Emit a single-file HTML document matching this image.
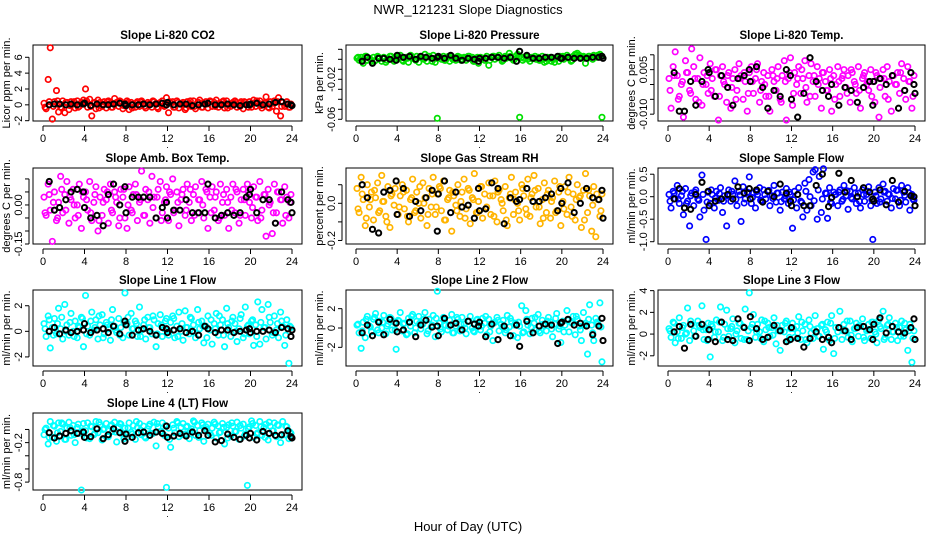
<!DOCTYPE html>
<html><head><meta charset="utf-8"><style>
html,body{margin:0;padding:0;background:#fff;}
svg{display:block;font-family:"Liberation Sans",Arial,sans-serif;}
</style></head><body>
<svg id="chart" width="936" height="540" viewBox="0 0 936 540" xmlns="http://www.w3.org/2000/svg">
<rect width="936" height="540" fill="#fff"/>
<text x="468" y="14" text-anchor="middle" font-size="13">NWR_121231  Slope Diagnostics</text>
<text x="468" y="531" text-anchor="middle" font-size="13">Hour of Day (UTC)</text>
<g id="panels"></g>
</svg>
<script>
const hours = [0.1,0.3,0.5,0.7,0.9,1.1,1.3,1.5,1.7,1.9,2.1,2.3,2.5,2.7,2.9,3.1,3.3,3.5,3.7,3.9,4.1,4.3,4.5,4.7,4.9,5.1,5.3,5.5,5.7,5.9,6.1,6.3,6.5,6.7,6.9,7.1,7.3,7.5,7.7,7.9,8.1,8.3,8.5,8.7,8.9,9.1,9.3,9.5,9.7,9.9,10.1,10.3,10.5,10.7,10.9,11.1,11.3,11.5,11.7,11.9,12.1,12.3,12.5,12.7,12.9,13.1,13.3,13.5,13.7,13.9,14.1,14.3,14.5,14.7,14.9,15.1,15.3,15.5,15.7,15.9,16.1,16.3,16.5,16.7,16.9,17.1,17.3,17.5,17.7,17.9,18.1,18.3,18.5,18.7,18.9,19.1,19.3,19.5,19.7,19.9,20.1,20.3,20.5,20.7,20.9,21.1,21.3,21.5,21.7,21.9,22.1,22.3,22.5,22.7,22.9,23.1,23.3,23.5,23.7,23.9];
const hours2 = [0.2,0.6,1.0,1.4,1.8,2.2,2.6,3.0,3.4,3.8,4.2,4.6,5.0,5.4,5.8,6.2,6.6,7.0,7.4,7.8,8.2,8.6,9.0,9.4,9.8,10.2,10.6,11.0,11.4,11.8,12.2,12.6,13.0,13.4,13.8,14.2,14.6,15.0,15.4,15.8,16.2,16.6,17.0,17.4,17.8,18.2,18.6,19.0,19.4,19.8,20.2,20.6,21.0,21.4,21.8,22.2,22.6,23.0,23.4,23.8];
const blackHours = [0.6,1.1,1.6,2.2,2.7,3.3,3.9,4.0,4.6,5.2,5.8,6.3,6.8,7.4,7.9,8.0,8.6,9.2,9.7,10.3,10.9,11.5,11.9,12.0,12.6,13.2,13.8,14.4,15.0,15.6,15.9,16.6,17.2,17.8,18.4,19.0,19.6,19.9,20.0,20.6,21.2,21.8,22.4,23.0,23.6,23.9,24.0];
const xTicks = [0,4,8,12,16,20,24];

const co2Vals = [0.2,-0.5,3.2,7.2,-1.8,0.4,1.8,-0.9,-0.3,0.5,-1.0,0.3,-0.6,0.4,0.1,-0.4,0.5,-0.2,0.3,0.6,2.0,-0.3,0.7,-1.4,0.2,-0.5,0.6,0.3,-0.2,0.4,-0.4,0.5,0.2,-0.3,0.8,0.3,-0.2,0.4,-0.5,0.2,0.5,-0.6,0.3,0.1,-0.3,0.4,-0.2,0.5,0.2,-0.4,0.3,0.1,-0.3,0.4,0.2,-0.5,0.3,0.5,-0.2,0.9,-1.0,0.2,0.4,-0.3,0.5,-0.4,0.2,0.3,-0.6,0.4,0.2,-0.2,0.5,-0.5,0.3,0.6,-0.3,0.2,0.4,-0.4,0.5,-0.2,0.3,0.6,-0.3,0.2,0.4,-0.4,0.5,0.1,-0.2,0.3,0.5,-0.3,0.2,0.4,-0.5,0.3,0.1,0.4,-0.3,0.6,-0.2,0.3,0.5,-0.4,0.2,1.0,-0.3,0.4,-0.2,0.5,-0.8,0.9,-1.4,0.3,-0.2,0.4,-0.3,0.1];
const co2Vals2 = [-0.3,0.4,-0.2,0.5,-0.4,0.3,-0.1,0.4,-0.3,0.2,0.5,-0.2,0.3,-0.4,0.1,0.4,-0.3,0.2,0.5,-0.1,0.3,-0.4,0.2,0.4,-0.2,0.1,0.5,-0.3,0.2,-0.1,0.4,-0.3,0.3,0.1,-0.4,0.5,-0.2,0.3,-0.3,0.1,0.4,-0.2,0.2,0.5,-0.4,0.1,0.3,-0.2,0.4,-0.3,0.2,0.5,-0.1,0.3,-0.4,0.2,0.4,-0.2,0.1,-0.3];
const co2Black = [0.0,0.1,0.1,0.0,0.1,0.0,0.1,0.2,-0.1,0.1,0.0,0.0,0.1,0.2,0.1,-0.1,0.0,0.0,0.1,0.0,0.1,0.2,0.0,0.3,0.0,0.1,0.1,-0.1,0.0,0.1,0.2,0.0,0.0,0.1,0.0,-0.1,0.0,0.0,0.1,0.2,0.0,0.1,0.3,0.4,0.1,0.0,-0.1];
const presVals = [0.001,-0.001,0.002,-0.004,0.003,-0.001,0.001,-0.002,0.002,-0.001,0.003,0.001,-0.002,0.002,-0.003,0.001,0.003,0.000,-0.002,0.002,0.003,0.004,-0.001,0.001,0.002,-0.003,0.004,0.001,0.000,0.003,-0.003,0.002,0.001,0.005,-0.002,0.003,0.001,0.004,-0.003,-0.059,0.002,0.000,0.003,-0.001,0.002,-0.002,0.003,0.001,-0.001,0.003,0.002,0.000,0.002,-0.001,0.003,0.001,0.002,-0.002,0.001,-0.004,0.002,0.001,-0.001,0.003,-0.006,0.002,0.003,0.000,0.002,0.004,0.001,-0.001,0.003,0.002,0.006,0.001,-0.001,0.003,0.005,-0.058,0.002,0.001,0.003,0.000,-0.002,0.002,0.001,0.000,0.002,-0.001,0.003,-0.003,-0.002,0.001,0.002,0.000,-0.003,0.002,-0.002,0.001,0.003,0.002,0.004,0.001,-0.002,0.003,0.005,0.006,0.004,0.002,0.003,-0.004,0.001,0.003,0.002,0.004,0.003,0.004,0.005,-0.058];
const presVals2 = [0.002,-0.001,0.003,0.000,-0.002,0.002,0.001,-0.001,0.003,0.000,0.002,-0.002,0.001,0.003,-0.001,0.002,0.000,0.003,-0.002,0.001,0.002,-0.001,0.003,0.000,0.002,-0.001,0.001,0.003,-0.002,0.002,0.000,0.001,-0.001,0.003,0.002,-0.002,0.001,0.003,0.000,0.002,-0.001,0.002,0.001,0.003,-0.001,0.000,0.002,-0.002,0.001,0.003,0.000,0.002,-0.001,0.004,0.001,0.002,0.003,0.000,0.002,0.003];
const presBlack = [-0.002,0.002,-0.004,0.001,0.001,0.000,-0.001,0.004,0.002,0.003,0.000,0.003,0.002,0.001,0.002,0.003,0.001,0.004,0.001,-0.001,0.001,0.000,-0.002,0.001,0.001,0.002,0.002,0.001,0.002,-0.002,0.008,0.004,0.001,0.001,0.002,0.002,0.003,0.001,0.001,0.002,0.001,0.001,0.001,0.002,0.002,0.003,0.001];
const tempVals = [0.002,-0.008,0.006,0.011,0.003,-0.004,0.0,-0.011,0.008,0.004,-0.002,0.012,0.006,-0.005,0.002,0.009,-0.007,0.004,0.0,-0.003,0.007,0.002,-0.004,0.005,-0.012,0.003,0.006,0.0,-0.006,0.004,-0.008,0.002,0.005,-0.002,0.007,0.003,-0.005,0.001,-0.009,0.004,0.006,-0.003,0.002,0.007,-0.006,0.001,0.004,-0.004,0.003,-0.009,0.005,0.001,-0.002,0.006,-0.005,0.003,0.008,-0.012,0.002,0.009,-0.007,0.004,0.0,0.006,-0.003,0.002,0.008,-0.006,0.003,0.007,0.001,-0.004,0.006,0.002,-0.008,0.004,0.001,-0.002,0.005,-0.009,0.003,0.0,0.006,-0.004,0.002,0.005,-0.001,0.003,-0.006,0.004,0.001,-0.003,0.006,-0.008,0.002,0.004,0.0,-0.002,0.005,0.001,-0.006,0.003,-0.011,0.002,0.005,-0.004,0.006,0.001,-0.009,0.003,0.0,0.004,-0.003,0.007,0.002,-0.005,0.006,0.001,-0.008,0.003];
const tempVals2 = [-0.002,0.003,-0.005,0.001,0.004,-0.003,0.002,-0.006,0.000,0.003,-0.002,0.005,-0.004,0.001,0.003,-0.001,-0.005,0.002,0.004,-0.003,0.001,0.005,-0.002,0.000,-0.004,0.003,0.002,-0.006,0.001,0.004,-0.003,0.002,0.005,-0.001,-0.004,0.003,0.000,0.004,-0.002,0.002,-0.005,0.001,0.003,-0.003,0.005,0.000,-0.002,0.003,0.001,-0.004,0.004,-0.001,0.002,-0.005,0.003,0.000,0.004,-0.002,0.001,-0.004];
const tempBlack = [0.004,-0.009,-0.009,0.001,-0.007,0.001,0.005,0.004,-0.004,0.003,-0.001,-0.007,0.002,0.003,0.005,0.001,0.006,-0.001,-0.008,-0.002,-0.004,0.005,0.003,-0.005,-0.011,-0.003,0.009,0.001,-0.002,-0.004,0.0,-0.007,-0.001,-0.002,-0.006,-0.001,0.001,-0.007,0.001,0.002,0.0,0.003,-0.008,-0.002,0.004,0.0,-0.003];
const ambVals = [0.03,-0.04,0.08,-0.02,-0.14,0.05,-0.06,0.01,0.11,-0.03,0.04,0.09,-0.07,0.02,0.06,-0.05,0.00,0.08,-0.09,0.03,0.05,-0.02,0.09,-0.06,0.01,0.07,-0.10,0.03,-0.04,0.06,0.02,-0.07,0.08,-0.03,0.05,0.01,-0.08,0.06,0.03,-0.05,-0.09,0.07,-0.02,0.04,0.08,-0.06,0.01,0.13,-0.04,0.06,0.02,-0.07,0.11,0.03,-0.05,0.06,0.09,-0.03,0.01,0.07,-0.06,0.04,0.10,-0.02,0.05,-0.08,0.02,0.06,-0.04,0.08,0.01,-0.06,0.04,0.07,-0.03,0.02,0.09,-0.05,0.06,-0.09,0.03,0.07,-0.02,0.05,-0.06,0.08,0.01,-0.04,0.06,-0.09,0.03,0.08,-0.03,0.05,-0.07,0.02,0.06,-0.04,0.08,0.01,-0.05,0.07,0.03,-0.06,0.09,-0.02,0.04,-0.12,0.06,0.01,-0.11,0.08,-0.03,0.05,0.02,-0.07,0.07,0.03,-0.05,0.04];
const ambVals2 = [-0.03,0.04,0.01,-0.05,0.06,-0.02,0.03,0.00,-0.04,0.05,0.02,-0.03,0.04,-0.06,0.01,0.05,-0.02,0.03,-0.05,0.06,0.00,-0.03,0.04,0.02,-0.04,0.05,-0.01,0.03,-0.06,0.02,0.05,-0.03,0.01,0.04,-0.02,0.06,-0.04,0.02,0.00,0.05,-0.03,0.03,-0.05,0.04,0.01,-0.02,0.06,-0.04,0.02,0.05,-0.01,0.03,-0.05,0.04,0.00,-0.03,0.05,0.02,-0.04,0.01];
const ambBlack = [0.09,-0.02,-0.01,0.02,0.05,0.06,0.05,-0.01,-0.05,-0.04,-0.08,0.04,0.08,0.00,0.07,-0.03,0.03,0.03,0.03,0.03,-0.05,-0.01,0.01,-0.05,-0.02,-0.02,0.02,-0.03,-0.03,-0.03,0.08,-0.05,-0.04,-0.03,-0.04,-0.03,0.03,0.04,0.06,-0.03,0.02,0.02,-0.07,0.05,0.02,0.01,-0.03];
const rhVals = [0.08,-0.05,0.14,0.02,-0.12,0.10,-0.02,0.06,-0.09,0.03,0.11,-0.04,0.15,0.01,-0.07,0.09,-0.13,0.05,-0.01,0.12,-0.06,0.04,0.10,-0.03,0.07,-0.10,0.02,0.13,-0.05,0.06,0.00,-0.08,0.11,0.03,-0.12,0.08,-0.02,0.14,-0.06,0.05,0.09,-0.04,0.12,-0.09,0.02,0.07,-0.15,0.04,-0.01,0.10,-0.07,0.06,0.13,-0.03,0.08,-0.11,0.03,0.16,-0.05,0.01,0.09,-0.08,0.05,-0.02,0.11,-0.06,0.04,0.12,-0.10,0.07,0.02,-0.04,0.09,-0.12,0.03,0.14,-0.06,0.06,0.00,-0.09,0.10,0.04,-0.03,0.13,-0.07,0.05,0.15,-0.02,0.08,-0.11,0.02,0.11,-0.05,0.07,-0.08,0.03,0.12,-0.04,0.06,-0.12,0.01,0.09,-0.06,0.14,-0.02,0.05,-0.09,0.10,0.03,-0.13,0.07,0.16,-0.05,0.04,-0.15,0.09,-0.18,0.02,-0.07,0.05];
const rhVals2 = [-0.03,0.05,-0.08,0.02,0.07,-0.05,0.01,-0.1,0.04,0.08,-0.02,0.06,-0.07,0.03,-0.04,0.09,0.0,-0.06,0.05,-0.02,0.08,-0.09,0.03,0.06,-0.04,0.01,-0.08,0.07,0.02,-0.05,0.09,-0.03,0.04,-0.07,0.06,0.0,-0.09,0.05,0.02,-0.04,0.08,-0.06,0.03,0.07,-0.02,-0.08,0.05,0.01,-0.05,0.09,-0.03,0.06,-0.07,0.02,0.04,-0.09,0.07,-0.01,0.05,-0.04];
const rhBlack = [0.10,0.03,-0.14,-0.16,0.06,0.07,0.12,-0.06,0.08,-0.07,0.01,-0.04,0.03,0.07,-0.15,0.05,0.12,-0.05,0.06,-0.02,-0.01,-0.08,0.08,-0.04,-0.03,0.11,0.08,-0.11,0.03,0.01,0.02,0.08,0.01,0.01,0.03,0.05,-0.04,0.08,0.0,0.11,-0.05,0.0,0.08,0.03,0.02,0.07,-0.08];
const sampleVals = [0.05,-0.25,0.12,-0.05,0.25,-0.15,0.02,-0.4,0.18,-0.1,-0.65,0.08,-0.2,0.15,-0.05,-0.45,0.48,-0.3,-0.95,0.1,-0.15,0.05,-0.25,0.12,-0.08,0.2,-0.35,0.02,-0.65,0.15,-0.1,0.05,0.35,-0.2,0.12,-0.55,0.22,-0.05,0.1,0.44,-0.15,0.08,-0.25,0.05,0.2,-0.1,0.15,-0.05,0.12,-0.2,0.02,0.25,-0.12,0.08,-0.3,0.1,-0.05,0.18,-0.15,0.05,-0.7,0.12,-0.25,0.2,-0.1,-0.45,0.3,-0.3,0.38,-0.2,0.55,0.6,-0.5,0.45,-0.35,0.62,0.08,-0.48,0.2,-0.15,0.1,0.05,-0.2,0.15,-0.1,0.25,0.02,-0.28,0.12,-0.05,0.2,-0.15,0.08,-0.25,0.15,-0.1,0.05,0.22,-0.2,-0.95,0.1,-0.15,0.2,-0.05,0.28,0.12,-0.1,0.05,-0.25,0.18,-0.05,0.15,-0.2,0.25,0.1,-0.12,0.2,-0.3,0.05,-0.08];
const sampleVals2 = [-0.1,0.08,-0.05,0.12,-0.15,0.02,0.1,-0.08,0.05,-0.12,0.15,-0.03,0.07,-0.1,0.02,0.12,-0.06,0.04,-0.14,0.09,-0.02,0.11,-0.08,0.05,0.14,-0.04,0.08,-0.11,0.02,0.1,-0.07,0.05,-0.13,0.12,0.0,-0.09,0.15,-0.05,0.07,-0.12,0.04,0.1,-0.06,0.13,-0.02,0.08,-0.1,0.05,0.12,-0.07,0.02,-0.12,0.1,0.06,-0.04,0.14,-0.08,0.03,0.09,-0.05];
const sampleBlack = [-0.05,0.18,-0.25,-0.28,0.05,0.32,0.12,-0.2,-0.1,-0.05,0.05,-0.05,0.22,0.08,0.18,-0.05,0.15,-0.12,0.12,0.0,0.28,0.08,-0.1,-0.2,0.05,-0.2,-0.2,0.25,0.5,-0.22,-0.02,0.52,0.1,0.36,0.0,0.2,0.1,-0.05,-0.1,0.15,-0.18,0.36,-0.12,0.12,0.02,0.0,-0.2];
const line1Vals = [0.6,-0.4,1.2,-1.3,0.3,1.0,-0.2,1.8,0.2,-0.6,2.1,0.5,-0.3,1.4,0.0,0.8,-0.5,0.3,1.1,-1.2,2.8,0.4,-0.3,1.5,0.1,0.9,-0.6,0.5,1.3,-0.2,0.7,0.2,-0.7,1.7,0.4,-0.1,1.0,0.3,-0.5,3.0,0.6,-0.3,1.4,0.2,0.8,-0.4,1.9,0.1,0.5,-0.6,1.1,0.3,-0.2,0.9,-1.2,0.6,1.3,-0.4,0.2,1.0,-0.3,0.7,1.2,-0.5,0.4,1.5,0.0,-0.7,1.6,0.3,-0.2,1.0,0.5,-0.5,1.7,0.2,0.8,-0.9,0.4,1.2,0.1,-1.0,0.6,1.4,-0.3,0.5,0.9,-1.2,1.8,0.3,-0.4,1.1,0.6,-0.8,0.2,1.3,-0.5,1.9,0.4,-0.2,0.8,-1.1,0.5,2.3,-1.0,1.7,0.3,-0.6,2.1,0.7,-0.3,1.2,0.1,-0.5,1.5,0.4,-1.1,0.9,-2.5,0.3];
const line1Vals2 = [0.2,0.9,-0.3,0.6,1.1,0.0,0.7,-0.4,0.4,1.0,-0.2,0.8,0.3,1.2,-0.5,0.5,0.9,0.1,-0.3,0.7,1.1,0.2,0.6,-0.4,0.9,0.3,1.2,-0.2,0.5,0.8,0.0,1.0,-0.4,0.6,0.3,1.1,-0.1,0.7,0.4,-0.5,0.9,0.2,1.2,-0.3,0.6,0.8,0.0,1.0,-0.2,0.5,0.9,-0.4,0.7,0.3,1.1,-0.1,0.6,0.8,-0.3,0.4];
const line1Black = [0.0,0.3,-0.2,0.1,-0.1,0.0,0.1,0.6,-0.1,0.1,0.2,-0.1,0.4,-0.2,0.8,0.5,-0.3,0.1,0.2,0.0,-0.3,0.3,0.2,-0.1,0.1,0.2,-0.1,0.0,-0.3,0.4,0.2,-0.1,0.1,0.1,-0.1,0.0,0.1,0.2,-0.1,0.0,0.0,0.1,-0.1,0.3,0.2,-0.4,0.1];
const line2Vals = [0.3,-0.5,-2.1,0.6,-1.0,1.2,0.2,-0.4,0.9,1.5,-0.2,0.7,0.0,1.3,-0.6,0.4,1.1,-0.2,0.6,-2.2,0.8,1.6,-0.3,0.5,-0.7,1.0,0.2,1.4,-0.5,0.7,1.2,-0.1,0.4,1.6,-0.6,0.9,0.1,1.3,-0.9,3.8,0.5,-0.4,1.1,0.3,-0.2,0.8,1.4,-0.5,0.2,0.9,-0.3,1.1,0.4,-0.6,0.7,1.2,0.0,-0.4,0.8,0.3,-0.2,1.0,0.5,-0.7,0.9,0.2,-1.3,0.6,1.1,-0.3,0.4,0.8,-0.5,1.3,0.1,0.7,-0.8,0.5,-1.0,0.2,2.3,-0.4,1.8,0.3,-0.6,1.0,0.5,-0.2,1.4,-0.5,0.8,0.2,-0.3,1.1,0.6,-0.9,0.4,1.5,-0.1,-1.5,0.7,0.3,1.8,-0.4,0.6,1.2,-0.7,0.9,0.2,-1.3,1.6,0.5,-2.7,2.4,0.3,-1.3,1.0,0.4,2.6,-3.5];
const line2Vals2 = [0.4,-0.3,0.9,0.1,1.1,-0.5,0.6,0.2,1.0,-0.2,0.7,0.4,-0.6,1.2,0.0,0.5,0.9,-0.3,0.3,1.0,-0.1,0.8,0.2,-0.5,1.1,0.4,0.0,0.7,-0.3,0.9,0.2,1.2,-0.4,0.5,0.8,0.1,-0.2,1.0,0.3,0.6,-0.5,0.9,0.1,1.1,-0.3,0.4,0.7,-0.1,1.0,0.2,-0.4,0.8,0.5,1.2,-0.2,0.3,0.9,-0.5,0.6,0.1];
const line2Black = [-0.5,0.3,-0.8,0.6,-0.7,0.9,0.5,-0.4,-0.2,0.6,-0.9,0.3,0.8,0.1,0.2,-0.8,1.0,0.3,0.5,-0.2,0.7,0.4,0.2,0.6,-0.9,0.4,-1.2,0.2,-0.8,0.3,-1.9,0.7,-0.5,0.2,0.4,0.3,-1.6,0.5,0.6,0.9,0.3,0.5,0.2,-0.7,0.2,1.0,-1.3];
const line3Vals = [0.5,-0.3,1.1,-0.8,0.2,1.5,-0.4,0.8,0.0,2.4,-0.6,0.9,0.3,-0.2,1.2,0.6,2.6,-0.5,0.4,1.0,-2.1,0.7,-0.3,1.3,0.2,2.5,-0.6,0.9,2.2,-0.2,0.5,1.4,-0.8,0.3,1.0,-0.4,0.7,2.3,-0.5,3.8,0.6,1.8,-0.3,0.9,0.2,1.3,-0.7,0.4,1.0,-0.2,0.6,1.5,-0.9,0.3,-1.5,0.8,0.2,1.2,-0.6,0.5,1.0,-0.3,0.7,1.6,-0.5,0.3,0.9,-0.8,1.3,0.1,-0.4,1.7,0.5,-0.2,0.8,-1.4,0.4,1.1,-0.6,1.7,-1.8,0.6,0.2,2.1,-0.5,0.9,0.3,-0.3,1.2,-0.7,0.5,1.0,-0.2,0.7,1.4,-0.6,0.3,0.9,-0.4,1.1,0.2,-0.8,1.3,0.5,2.1,-0.3,0.8,1.5,-0.5,0.2,1.0,-0.6,0.6,1.2,-0.2,0.4,-1.5,0.9,-2.6,0.3];
const line3Vals2 = [0.3,1.0,-0.4,0.6,0.1,1.2,-0.2,0.8,0.4,-0.6,0.9,0.2,1.1,-0.3,0.5,0.7,0.0,1.0,-0.5,0.3,0.9,0.2,-0.4,1.2,0.6,-0.1,0.8,0.3,1.0,-0.3,0.5,0.1,1.1,-0.5,0.7,0.4,-0.2,0.9,0.2,1.0,-0.4,0.6,0.3,1.2,-0.1,0.5,0.8,-0.3,0.4,1.1,0.0,0.7,-0.5,0.9,0.2,0.6,-0.2,1.0,0.3,-0.4];
const line3Black = [0.2,0.7,-1.3,0.9,-0.2,0.9,-0.5,0.4,-0.7,1.1,-0.5,-0.6,1.4,0.6,-0.6,1.6,0.5,-0.5,-0.3,0.8,0.3,-0.7,-0.5,0.6,-0.4,-1.2,-0.4,0.2,-0.5,-0.3,-0.8,0.6,0.3,-0.5,0.6,0.7,0.4,-0.5,0.9,1.5,0.1,0.7,0.2,0.1,0.6,1.4,-0.5];
const line4Vals = [-0.08,0.02,-0.22,0.12,-0.12,0.05,-0.18,0.10,-0.03,0.08,-0.15,0.02,0.11,-0.09,0.06,-0.20,0.03,-0.06,-0.92,0.09,-0.02,0.10,-0.14,0.04,-0.08,0.12,-0.05,0.07,-0.16,0.01,0.09,-0.11,0.05,-0.03,0.11,-0.19,0.04,0.08,-0.07,0.02,-0.12,0.10,-0.04,0.06,-0.15,0.03,0.09,-0.08,0.05,-0.13,0.01,0.08,-0.06,0.11,-0.25,0.04,-0.03,0.10,-0.09,-0.88,0.02,-0.27,0.07,-0.05,0.12,-0.11,0.03,0.09,-0.07,0.05,-0.14,0.01,0.13,-0.09,0.06,-0.02,0.10,-0.18,0.04,0.08,-0.06,0.02,0.11,-0.13,0.05,-0.04,0.09,-0.22,0.03,0.07,-0.10,0.05,-0.03,0.11,-0.15,0.02,0.08,-0.07,-0.85,0.04,0.13,-0.12,0.06,-0.05,0.12,-0.09,0.03,0.08,-0.16,0.05,-0.02,0.10,-0.11,0.06,-0.20,0.12,-0.08,0.04,-0.14,-0.06];
const line4Vals2 = [0.0,-0.12,0.06,-0.05,0.10,-0.15,0.03,-0.08,0.08,-0.02,-0.13,0.05,-0.06,0.11,0.00,-0.10,0.07,-0.04,0.09,-0.14,0.02,-0.07,0.12,-0.01,-0.11,0.05,-0.06,0.09,-0.03,0.06,-0.15,0.02,0.10,-0.08,0.04,-0.02,0.11,-0.12,0.07,0.00,-0.09,0.08,-0.05,0.03,-0.13,0.10,-0.03,0.06,-0.10,0.01,0.09,-0.07,0.04,-0.12,0.11,-0.02,0.07,-0.09,0.05,-0.04];
const line4Black = [-0.05,-0.13,-0.10,-0.06,-0.02,-0.06,-0.04,-0.12,-0.11,0.01,-0.14,-0.08,0.01,-0.05,-0.18,-0.07,-0.12,-0.05,-0.04,-0.09,-0.04,-0.06,0.05,-0.12,-0.10,-0.06,-0.10,-0.04,-0.09,-0.02,-0.09,-0.19,-0.17,-0.07,-0.12,-0.15,-0.09,-0.13,-0.06,-0.16,-0.03,-0.06,-0.09,-0.08,-0.02,-0.11,-0.13];

const co2Ticks = [-2,0,2,4,6];           const co2TickLabels = ["-2","0","2","4","6"];
const presTicks = [0.01,0,-0.01,-0.02,-0.03,-0.04,-0.05,-0.06]; const presTickLabels = ["","","","-0.02","","","","-0.06"];
const tempTicks = [0.01,0.005,0,-0.005,-0.01]; const tempTickLabels = ["","0.005","","","-0.010"];
const ambTicks = [0.1,0.05,0,-0.05,-0.1,-0.15]; const ambTickLabels = ["","","0.00","","","-0.15"];
const rhTicks = [0.1,0,-0.1,-0.2];        const rhTickLabels = ["","0.0","","-0.2"];
const sampleTicks = [0.5,0,-0.5,-1.0];    const sampleTickLabels = ["0.5","0.0","-0.5","-1.0"];
const line1Ticks = [2,0,-2];              const line1TickLabels = ["2","0","-2"];
const line2Ticks = [2,0,-2];              const line2TickLabels = ["2","0","-2"];
const line3Ticks = [4,2,0,-2];            const line3TickLabels = ["4","2","0","-2"];
const line4Ticks = [0,-0.2,-0.4,-0.6,-0.8]; const line4TickLabels = ["","-0.2","","","-0.8"];

const colLeft = [33,346,658], colRight = [302,613,925];
const rowTop = [45,168,290,413], rowBottom = [121,244,366,490];

const panels = [
 {name:"co2",title:"Slope Li-820 CO2",ylab:"Licor ppm per min.",c:0,r:0,yMin:-2.04,yMax:7.55,ticks:co2Ticks,labels:co2TickLabels,vals:co2Vals,vals2:co2Vals2,black:co2Black,color:"#ff0000"},
 {name:"pressure",title:"Slope Li-820 Pressure",ylab:"kPa per min.",c:1,r:0,yMin:-0.0617,yMax:0.0143,ticks:presTicks,labels:presTickLabels,vals:presVals,vals2:presVals2,black:presBlack,color:"#00e000"},
 {name:"temp",title:"Slope Li-820 Temp.",ylab:"degrees C per min.",c:2,r:0,yMin:-0.0123,yMax:0.0133,ticks:tempTicks,labels:tempTickLabels,vals:tempVals,vals2:tempVals2,black:tempBlack,color:"#ff00ff"},
 {name:"amb-box-temp",title:"Slope Amb. Box Temp.",ylab:"degrees C per min.",c:0,r:1,yMin:-0.15,yMax:0.142,ticks:ambTicks,labels:ambTickLabels,vals:ambVals,vals2:ambVals2,black:ambBlack,color:"#ff00ff"},
 {name:"gas-stream-rh",title:"Slope Gas Stream RH",ylab:"percent per min.",c:1,r:1,yMin:-0.219,yMax:0.19,ticks:rhTicks,labels:rhTickLabels,vals:rhVals,vals2:rhVals2,black:rhBlack,color:"#ffb400"},
 {name:"sample-flow",title:"Slope Sample Flow",ylab:"ml/min per min.",c:2,r:1,yMin:-1.051,yMax:0.638,ticks:sampleTicks,labels:sampleTickLabels,vals:sampleVals,vals2:sampleVals2,black:sampleBlack,color:"#0000ff"},
 {name:"line1-flow",title:"Slope Line 1 Flow",ylab:"ml/min per min.",c:0,r:2,yMin:-2.71,yMax:3.23,ticks:line1Ticks,labels:line1TickLabels,vals:line1Vals,vals2:line1Vals2,black:line1Black,color:"#00ffff"},
 {name:"line2-flow",title:"Slope Line 2 Flow",ylab:"ml/min per min.",c:1,r:2,yMin:-3.93,yMax:3.93,ticks:line2Ticks,labels:line2TickLabels,vals:line2Vals,vals2:line2Vals2,black:line2Black,color:"#00ffff"},
 {name:"line3-flow",title:"Slope Line 3 Flow",ylab:"ml/min per min.",c:2,r:2,yMin:-2.94,yMax:4.06,ticks:line3Ticks,labels:line3TickLabels,vals:line3Vals,vals2:line3Vals2,black:line3Black,color:"#00ffff"},
 {name:"line4-flow",title:"Slope Line 4 (LT) Flow",ylab:"ml/min per min.",c:0,r:3,yMin:-0.92,yMax:0.25,ticks:line4Ticks,labels:line4TickLabels,vals:line4Vals,vals2:line4Vals2,black:line4Black,color:"#00ffff"}
];

const NS = "http://www.w3.org/2000/svg";
function mk(tag, attrs, parent){
  const e = document.createElementNS(NS, tag);
  for (const k in attrs) e.setAttribute(k, attrs[k]);
  parent.appendChild(e);
  return e;
}
const root = document.getElementById("panels");
panels.forEach(p => {
  const L = colLeft[p.c], R = colRight[p.c], T = rowTop[p.r], B = rowBottom[p.r];
  const xScale = h => (L + 10) + h / 24 * ((R - 10) - (L + 10));
  const yScale = v => B - (v - p.yMin) / (p.yMax - p.yMin) * (B - T);
  const g = mk("g", {}, root);
  
  
  const title = mk("text", {x:(L+R)/2, y:T-6, "text-anchor":"middle", "font-size":"11.5", "font-weight":"bold"}, g);
  title.textContent = p.title;
  
  
  const box = mk("rect", {x:L, y:T, width:R-L, height:B-T, fill:"none", stroke:"#000", "stroke-width":"1"}, g);
  
  
  const xa = mk("g", {stroke:"#000","stroke-width":"1"}, g);
  
  
  const ay = B + 5;
  mk("line", {x1:xScale(xTicks[0]), x2:xScale(xTicks[xTicks.length-1]), y1:ay, y2:ay}, xa);
  xTicks.forEach(t => {
    mk("line", {x1:xScale(t), x2:xScale(t), y1:ay, y2:ay+5}, xa);
    const tl = mk("text", {x:xScale(t), y:B+21, "text-anchor":"middle", "font-size":"11", stroke:"none", fill:"#000"}, xa);
    tl.textContent = t;
    
    
  });
  const ya = mk("g", {stroke:"#000","stroke-width":"1"}, g);
  
  
  const ax = L - 4;
  const ys = p.ticks.map(yScale);
  mk("line", {x1:ax, x2:ax, y1:Math.min(...ys), y2:Math.max(...ys)}, ya);
  p.ticks.forEach((t, i) => {
    const y = yScale(t);
    mk("line", {x1:ax-4, x2:ax, y1:y, y2:y}, ya);
    if (p.labels[i]) {
      const tl = mk("text", {x:0, y:0, transform:`translate(${L-11},${y}) rotate(-90)`, "text-anchor":"middle", "font-size":"11", stroke:"none", fill:"#000"}, ya);
      tl.textContent = p.labels[i];
      
      
    }
  });
  const yt = mk("text", {x:0, y:0, transform:`translate(${L-23},${(T+B)/2}) rotate(-90)`, "text-anchor":"middle", "font-size":"11"}, g);
  yt.textContent = p.ylab;
  
  
  const dot = mk("text", {x:(L+R)/2, y:B+27, "text-anchor":"middle", "font-size":"9"}, g);
  dot.textContent = ".";
  
  
  const pts = mk("g", {fill:"none", stroke:p.color, "stroke-width":"1.7"}, g);
  
  
  const n = Math.min(hours.length, p.vals.length);
  for (let i = 0; i < n; i++) {
    const c = mk("circle", {cx:xScale(hours[i]), cy:yScale(p.vals[i]), r:2.7}, pts);
    
    
  }
  const n2 = Math.min(hours2.length, p.vals2.length);
  for (let i = 0; i < n2; i++) {
    const c = mk("circle", {cx:xScale(hours2[i]), cy:yScale(p.vals2[i]), r:2.7}, pts);
    
    
  }
  const bpts = mk("g", {fill:"none", stroke:"#000", "stroke-width":"2"}, g);
  
  
  const m = Math.min(blackHours.length, p.black.length);
  for (let i = 0; i < m; i++) {
    const c = mk("circle", {cx:xScale(blackHours[i]), cy:yScale(p.black[i]), r:2.6}, bpts);
    
    
  }
});
</script>
</body></html>
